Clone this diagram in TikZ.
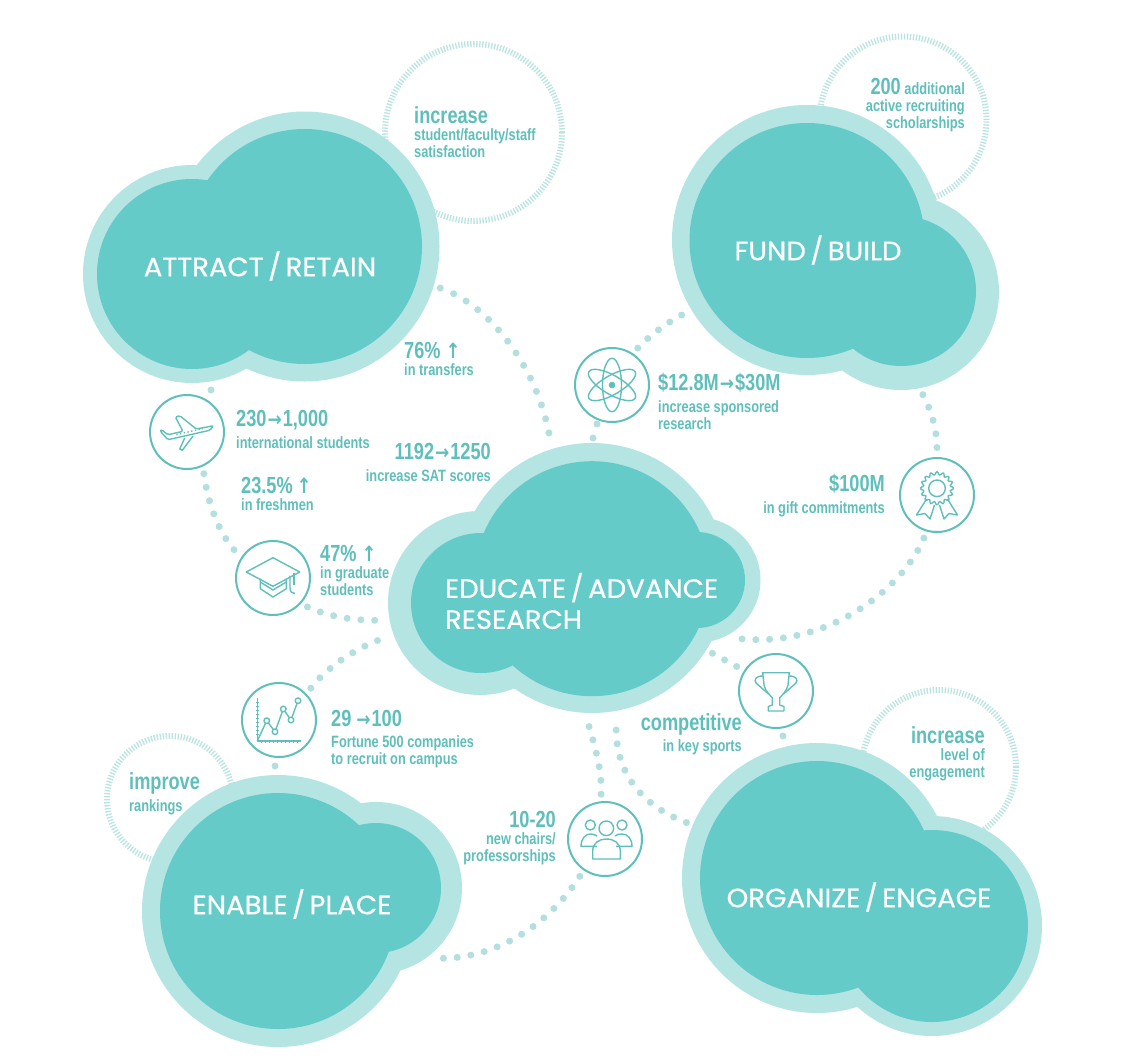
\documentclass[tikz,border=0pt]{standalone}
\usepackage{fontspec}
\setmainfont{Liberation Sans}
\newfontfamily\statfont[FakeStretch=0.78]{Liberation Sans}
\newfontfamily\arrowfont[FakeStretch=0.85]{DejaVu Sans}
\newfontfamily\cloudfont[FakeStretch=1.04,FakeBold=0.6,WordSpace=0.6]{Poppins}
\definecolor{PaleTeal}{HTML}{B5E5E3}
\definecolor{DeepTeal}{HTML}{64CBC9}
\definecolor{InkTeal}{HTML}{5FBFBB}
\definecolor{DotTeal}{HTML}{B3E0DE}
\definecolor{HatchTeal}{HTML}{B9E4E2}
\newcommand{\statbig}[1]{{\fontsize{23.3}{24}\selectfont #1}}
\newcommand{\statright}{\kern1pt{\arrowfont\bfseries\fontsize{20}{24}\selectfont →}\kern1pt}
\newcommand{\statrise}{{\arrowfont\bfseries\fontsize{21}{24}\selectfont ↑}}
\begin{document}
\begin{tikzpicture}[
        x=1pt, y=-1pt,
        paleblob/.style={circle, fill=PaleTeal, inner sep=0pt, outer sep=7pt},
        tealblob/.style={circle, fill=DeepTeal, inner sep=0pt, outer sep=0pt},
        hatchring/.style={circle, draw=HatchTeal, line width=6pt, inner sep=0pt,
                          outer sep=0pt, dash pattern=on 1.3pt off 1.7pt},
        iconring/.style={circle, draw=InkTeal, line width=2pt, inner sep=0pt,
                         outer sep=8pt, minimum size=74pt},
        iconline/.style={draw=InkTeal, line width=1.4pt, line join=round},
        dotlink/.style={draw=DotTeal, line width=7pt, line cap=round,
                        dash pattern=on 0pt off 13.8pt},
        dotnode/.style={circle, fill=DotTeal, inner sep=0pt, minimum size=7pt},
        cloudlabel/.style={text=white, font=\cloudfont\fontsize{26.5}{31}\selectfont, align=left},
        statl/.style={text=InkTeal, align=left, anchor=west, inner sep=0pt,
                      font=\statfont\bfseries\fontsize{16.4}{17}\selectfont},
        statr/.style={statl, align=right, anchor=east},
      ]
        \useasboundingbox (0,0) rectangle (1140,1063);
        \fill[white] (0,0) rectangle (1140,1063);
        % dashed rings behind the clouds
        \node[hatchring, minimum size=177pt] (ringattract)  at (473.5,132.5) {};
        \node[hatchring, minimum size=167pt] (ringfund)     at (903,120) {};
        \node[hatchring, minimum size=126pt] (ringenable)   at (170,799) {};
        \node[hatchring, minimum size=154pt] (ringorganize) at (939,767) {};
        % clouds
        \node[paleblob, minimum size=270pt] (attractout)  at (304.5,246.5) {};
        \node[paleblob, minimum size=218pt] (attractoutb) at (192,274) {};
        \node[tealblob, minimum size=235pt] (attractin)   at (304.5,246.5) {};
        \node[tealblob, minimum size=190pt] (attractinb)  at (192,274) {};
        \node[paleblob, minimum size=270pt] (fundout)  at (807,240) {};
        \node[paleblob, minimum size=196pt] (fundoutb) at (901,292) {};
        \node[tealblob, minimum size=235pt] (fundin)   at (807,240.5) {};
        \node[tealblob, minimum size=150pt] (fundinb)  at (901,291) {};
        \node[paleblob, minimum size=270pt] (educateout)  at (592,578) {};
        \node[paleblob, minimum size=184pt] (educateoutl) at (480,603) {};
        \node[paleblob, minimum size=125pt] (educateoutr) at (698,580) {};
        \node[tealblob, minimum size=235pt] (educatein)   at (592,578.7) {};
        \node[tealblob, minimum size=140pt] (educateinl)  at (481,603) {};
        \node[tealblob, minimum size=96pt]  (educateinr)  at (697,580) {};
        \node[paleblob, minimum size=272pt] (enableout)  at (278,911) {};
        \node[paleblob, minimum size=172pt] (enableoutb) at (376,888) {};
        \node[tealblob, minimum size=236pt] (enablein)   at (278,911) {};
        \node[tealblob, minimum size=130pt] (enableinb)  at (376,888) {};
        \node[paleblob, minimum size=270pt] (organizeout)  at (817,878) {};
        \node[paleblob, minimum size=220pt] (organizeoutb) at (932,926) {};
        \node[tealblob, minimum size=234pt] (organizein)   at (817,878) {};
        \node[tealblob, minimum size=192pt] (organizeinb)  at (932,926) {};
        \node[cloudlabel] (attractname)  at (260,266) {ATTRACT / RETAIN};
        \node[cloudlabel] (fundname)     at (818,250) {FUND / BUILD};
        \node[cloudlabel, anchor=west] (educatename) at (441.5,601) {EDUCATE / ADVANCE\\RESEARCH};
        \node[cloudlabel] (enablename)   at (292,904) {ENABLE / PLACE};
        \node[cloudlabel] (organizename) at (859,897) {ORGANIZE / ENGAGE};
        % icon circles
        \node[iconring] (plane)  at (187,432) {};
        \node[iconring] (cap)    at (273,578) {};
        \node[iconring] (chart)  at (279,720) {};
        \node[iconring] (people) at (605,839) {};
        \node[iconring] (atom)   at (612,385) {};
        \node[iconring] (ribbon) at (937,495) {};
        \node[iconring] (trophy) at (776,691) {};
        % dotted connectors
        \draw[dotlink, dash pattern=on 0pt off 14.5pt] (attractout.-17) .. controls (490,305) and (540,370) .. (educateout.107);
        \draw[dotlink] (plane.-68) .. controls (208,505) and (220,535) .. (cap.145);
        \draw[dotlink] (cap.-40) .. controls (330,617) and (355,621) .. (educateoutl.-170);
        \draw[dotlink] (chart.45) .. controls (325,670) and (350,650) .. (educateoutl.-160);
        \draw[dotlink] (atom.55) .. controls (650,335) and (668,322) .. (fundout.-149);
        \draw[dotlink] (fundoutb.-78) .. controls (932,412) and (937,430) .. (ribbon.90);
        \draw[dotlink] (ribbon.-107) .. controls (905,585) and (830,650) .. (educateoutr.-57);
        \draw[dotlink] (educateout.-32) -- (trophy.148);
        \draw[dotlink] (people.95) .. controls (602,770) and (596,750) .. (educateout.-92);
        \draw[dotlink] (organizeout.157) .. controls (640,805) and (612,770) .. (educateout.-80);
        \draw[dotlink] (people.-124) .. controls (545,930) and (490,960) .. (enableoutb.-49);
        \node[dotnode] (planedot)  at (211,390) {};
        \node[dotnode] (chartdot)  at (275,766) {};
        \node[dotnode] (trophydot) at (783,736) {};
        \node[dotnode] (atomdota)  at (597,424) {};
        \node[dotnode] (atomdotb)  at (593,438) {};
        % plane
        \begin{scope}[shift={(plane)}]
          \draw[iconline, rounded corners=1.5pt] (26.7,-6.3) -- (9.3,-3) -- (-7.3,-16.3) -- (-11.7,-15) -- (-4,-0.7)
            -- (-19,2.7) -- (-25.7,-2.3) -- (-26.7,-0.7) -- (-19,7.7) -- (22.7,-1.7) -- cycle;
          \draw[iconline] (-2.3,6) -- (-7.3,17) -- (-4.7,18.3) -- (6,4);
          \draw[iconline, dash pattern=on 1.4pt off 2.4pt] (-10.7,2.7) -- (16,-3.5);
        \end{scope}
        % mortarboard
        \begin{scope}[shift={(cap)}]
          \draw[iconline] (-26.7,-6) -- (0,-20.3) -- (26.7,-6) -- (0,8.3) -- cycle;
          \draw[iconline] (-12.7,0.5) -- (-12.7,10.7) -- (0,19) -- (13.3,10.7) -- (13.3,0.5);
          \draw[iconline] (-12.7,4) -- (0,12) -- (13.3,4);
          \draw[iconline] (17,-2.5) -- (17,10) .. controls (17,14) and (19,15) .. (22,15.5);
          \draw[iconline] (21,-5) -- (21,7);
        \end{scope}
        % chart
        \begin{scope}[shift={(chart)}]
          \draw[iconline] (-21.7,-21.7) -- (-21.7,21) -- (21.7,21);
          \draw[iconline, line width=3pt, dash pattern=on 1pt off 3pt] (-21.7,-18) -- (-21.7,18);
          \draw[iconline, line width=3pt, dash pattern=on 1pt off 3pt] (-18,21) -- (21,21);
          \draw[iconline] (-21.7,21) -- (-12.3,0.7) -- (-4,11.7) -- (4.3,-11) -- (12,0) -- (19,-19.3);
          \foreach \px/\py in {-12.3/0.7, -4/11.7, 4.3/-11, 12/0, 19/-19.3}
            \filldraw[iconline, fill=white] (\px,\py) circle (2.8pt);
        \end{scope}
        % people
        \begin{scope}[shift={(people)}]
          \draw[iconline] (1.3,-10.7) circle (7.3pt);
          \draw[iconline] (-14.7,-14) circle (5pt);
          \draw[iconline] (17,-14) circle (5pt);
          \draw[iconline] (-8,7.3) -- (-24,7.3) .. controls (-24,-1) and (-19,-5) .. (-14.7,-5) .. controls (-12,-5) and (-10,-4.5) .. (-8,-3);
          \draw[iconline] (11,7.3) -- (27,7.3) .. controls (27,-1) and (22,-5) .. (17,-5) .. controls (14,-5) and (12,-4.5) .. (10,-3);
          \draw[iconline] (-12.3,20) -- (-12.3,12) .. controls (-12.3,4) and (-6,0) .. (1.3,0)
            .. controls (9,0) and (15.3,4) .. (15.3,12) -- (15.3,20) -- cycle;
        \end{scope}
        % atom
        \begin{scope}[shift={(atom)}]
          \fill[InkTeal] (0,0) circle (3.3pt);
          \foreach \tilt in {0,60,120}
            \draw[iconline, rotate=\tilt] (0,0) ellipse (9.5pt and 26.7pt);
        \end{scope}
        % rosette
        \begin{scope}[shift={(ribbon)}]
          \draw[iconline] plot[samples=97, domain=0:360]
            ({(15+1.6*cos(16*\x))*cos(\x)}, {-6.7+(15+1.6*cos(16*\x))*sin(\x)});
          \draw[iconline] (0,-6.7) circle (8.3pt);
          \draw[iconline] (-10.5,4) -- (-20.5,20) -- (-12,18.5) -- (-7,24) -- (-2.5,10);
          \draw[iconline] (10.5,4) -- (20.5,20) -- (12,18.5) -- (7,24) -- (2.5,10);
        \end{scope}
        % trophy
        \begin{scope}[shift={(trophy)}]
          \draw[iconline] (-13.3,-18.3) -- (13.3,-18.3) -- (12,-6) .. controls (11,0) and (6,4) .. (3.7,6.7)
            -- (3.7,14) -- (8,15.5) -- (8,20) -- (-7.7,20) -- (-7.7,15.5) -- (-3.7,14) -- (-3.7,6.7)
            .. controls (-6,4) and (-11,0) .. (-12,-6) -- cycle;
          \draw[iconline] (-13,-15) .. controls (-21,-15) and (-22,-11) .. (-20,-8) -- (-7.5,3);
          \draw[iconline] (13,-15) .. controls (21,-15) and (22,-11) .. (20,-8) -- (7.5,3);
        \end{scope}
        % figures
        \node[statl] (satisfied) at (414,132) {\statbig{increase}\\student/faculty/staff\\satisfaction};
        \node[statr] (scholars) at (965,105.5) {\statbig{200} additional\\active recruiting\\scholarships};
        \node[statl] (transfers) at (404,359) {\statbig{76\% \statrise}\\in transfers};
        \node[statl] (intl) at (236,429) {\statbig{230\statright 1,000}\\[5pt]international students};
        \node[statl] (freshmen) at (241,494) {\statbig{23.5\%\,\statrise}\\in freshmen};
        \node[statl] (graduate) at (320,570) {\statbig{47\% \statrise}\\in graduate\\students};
        \node[statr] (satscores) at (491,462) {\statbig{1192\statright 1250}\\[5pt]increase SAT scores};
        \node[statl] (sponsored) at (658,401) {\statbig{\$12.8M\statright\$30M}\\[5pt]increase sponsored\\research};
        \node[statr] (gifts) at (885,496) {\statbig{\$100M}\\[5pt]in gift commitments};
        \node[statr] (sports) at (742,734) {\statbig{competitive}\\[4pt]in key sports};
        \node[statr] (engaged) at (985,754) {\statbig{increase}\\level of\\engagement};
        \node[statl] (rankings) at (129,794) {\statbig{improve}\\[5pt]rankings};
        \node[statl] (fortune) at (331,739.5) {\statbig{29\,\statright 100}\\[4pt]Fortune 500 companies\\to recruit on campus};
        \node[statr] (chairs) at (556,838.5) {\statbig{10-20}\\new chairs/\\professorships};
      \end{tikzpicture}
\end{document}
